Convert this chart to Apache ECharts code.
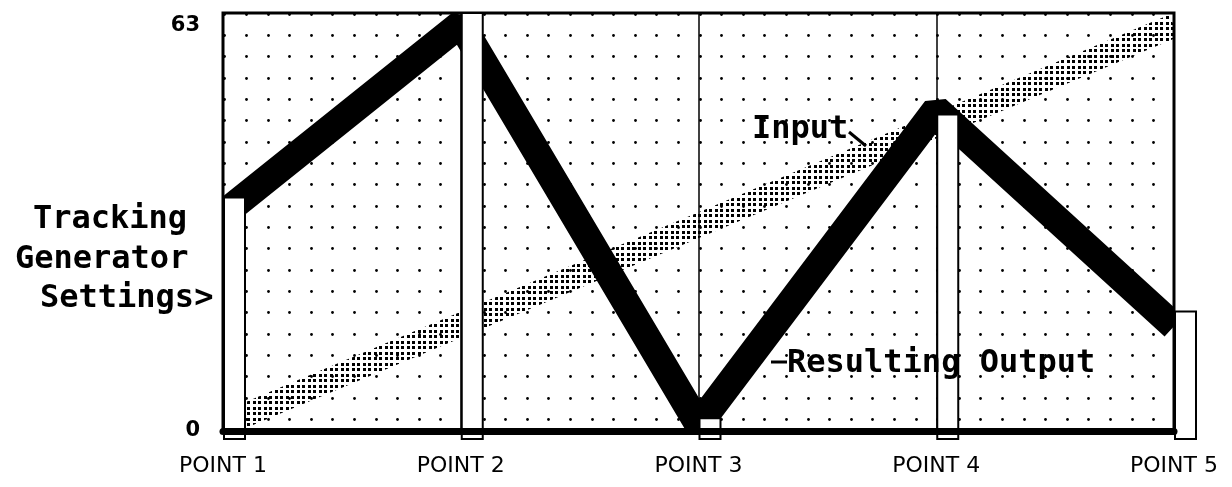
<!DOCTYPE html>
<html><head><meta charset="utf-8">
<script src="https://cdn.jsdelivr.net/npm/echarts@6/dist/echarts.min.js"></script>
<style>html,body{margin:0;padding:0;background:#fff}#c{width:1232px;height:487px}</style>
</head><body><div id="c"></div>
<script>
// ---- data ----
const categories = ['POINT 1', 'POINT 2', 'POINT 3', 'POINT 4', 'POINT 5'];
const settingBars = [36.3, 65, 2, 49.2, 18.6];   // tracking generator setting bars
const inputValues = [1, 16.5, 32, 47.5, 63];     // stippled "Input" band
const outputValues = [33.7, 63.3, 1, 50, 16.3];  // black "Resulting Output" band
const yTickLabels = [0, 63];

// ---- textures ----
function dotGrid() {
  const c = document.createElement('canvas');
  c.width = 108; c.height = 64;
  const g = c.getContext('2d');
  g.fillStyle = '#000';
  const xs = [8.4, 30, 51.6, 73.2, 94.8], ys = [13.67, 35, 56.33];
  xs.forEach(x => ys.forEach(y => {
    g.beginPath(); g.arc(Math.round(x) + 0.5, Math.round(y) + 0.5, 1.4, 0, Math.PI * 2); g.fill();
  }));
  return c;
}
function stipple() {
  const c = document.createElement('canvas');
  c.width = 11; c.height = 11;
  const g = c.getContext('2d');
  g.fillStyle = '#000';
  [[0, 0], [5, 0], [0, 5], [5, 5]].forEach(p => {
    g.fillRect(p[0], p[1], 3, 3);
  });
  return c;
}

// a thick band drawn through all points of one series, clipped to the plot frame
function bandSeries(name, values, width, color, z, join) {
  return {
    name: name, type: 'custom', z: z, clip: true,
    data: values.map((v, i) => [i, v]),
    renderItem(params, api) {
      if (params.dataIndex !== 0) return null;
      const pts = values.map((v, i) => api.coord([i, v]));
      return {
        type: 'polyline', shape: { points: pts },
        style: { stroke: color, fill: null, lineWidth: width, lineJoin: join, lineCap: 'butt' }
      };
    }
  };
}

const chart = echarts.init(document.getElementById('c'), null, { renderer: 'canvas' });
const monoBold = { fontFamily: 'DejaVu Sans Mono', fontWeight: 'bold', fontSize: 32, fill: '#000' };

chart.setOption({
  animation: false,
  backgroundColor: '#fff',
  grid: {
    left: 223, top: 13, width: 951, height: 418,
    show: true, borderColor: '#000', borderWidth: 3,
    backgroundColor: { image: dotGrid(), repeat: 'repeat' },
    containLabel: false, outerBoundsMode: 'none'
  },
  xAxis: {
    type: 'category', data: categories, boundaryGap: false, z: 10,
    axisLine: { show: true, lineStyle: { color: '#000', width: 7 } },
    axisTick: { show: false },
    axisLabel: { color: '#000', fontFamily: 'DejaVu Sans', fontSize: 22, margin: 24 },
    splitLine: { show: true, lineStyle: { color: '#000', width: 1.5 } }
  },
  yAxis: {
    type: 'value', min: 0, max: 65,
    axisLine: { show: false }, axisTick: { show: false }, splitLine: { show: false },
    axisLabel: { color: '#000', fontFamily: 'DejaVu Sans', fontWeight: 'bold', fontSize: 21, margin: 23, customValues: yTickLabels }
  },
  series: [
    bandSeries('Input', inputValues, 24, { image: stipple(), repeat: 'repeat' }, 2, 'miter'),
    bandSeries('Resulting Output', outputValues, 28, '#000', 3, 'bevel'),
    {
      name: 'Settings', type: 'custom', z: 5, clip: false,
      data: settingBars.map((v, i) => [i, v]),
      renderItem(params, api) {
        const top = api.coord([api.value(0), api.value(1)]);
        const base = api.coord([api.value(0), 0]);
        return {
          type: 'rect',
          shape: { x: top[0] + 1, y: top[1], width: 21, height: base[1] - top[1] + 8 },
          style: { fill: '#fff', stroke: '#000', lineWidth: 2 }
        };
      }
    }
  ],
  graphic: [
    { type: 'text', left: 33, top: 204, style: Object.assign({ text: 'Tracking' }, monoBold) },
    { type: 'text', left: 15, top: 244, style: Object.assign({ text: 'Generator' }, monoBold) },
    { type: 'text', left: 40, top: 283, style: Object.assign({ text: 'Settings>' }, monoBold) },
    { type: 'text', left: 752, top: 114, z: 20, style: Object.assign({ text: 'Input' }, monoBold) },
    { type: 'line', z: 20, shape: { x1: 849, y1: 132, x2: 866, y2: 146 }, style: { stroke: '#000', lineWidth: 3 } },
    { type: 'text', left: 787, top: 348, z: 20, style: Object.assign({ text: 'Resulting Output' }, monoBold) },
    { type: 'line', z: 20, shape: { x1: 771, y1: 362, x2: 787, y2: 362 }, style: { stroke: '#000', lineWidth: 3 } }
  ]
});
</script></body></html>
